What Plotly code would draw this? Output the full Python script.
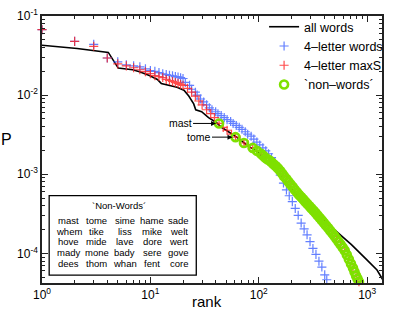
import numpy as np
import plotly.graph_objects as go

# ---------------- data ----------------
all_rank = [1, 2.11, 4.09, 4.52, 5.05, 6.86, 7.94, 9.79, 11.6, 12.6, 14.9, 17.6, 20.4, 22.6, 25.1,
            26.2, 29.7, 34.4, 40.6, 45.2, 50.1, 64.4, 79.4, 97.9, 121, 149, 184, 241, 344, 501,
            716, 1000, 1233, 1428]
all_log10P = [-1.370, -1.411, -1.460, -1.556, -1.658, -1.679, -1.704, -1.753, -1.802, -1.852,
              -1.877, -1.901, -1.938, -2.012, -2.111, -2.185, -2.210, -2.284, -2.346, -2.407,
              -2.444, -2.543, -2.642, -2.716, -2.852, -2.975, -3.136, -3.296, -3.494, -3.704,
              -3.889, -4.086, -4.210, -4.358]

w4_rank = list(range(1, 20)) + [20, 21, 23, 24, 26, 27, 29, 31, 33, 35, 37, 40, 42, 45, 48, 51, 55,
                                58, 62, 66, 70, 75, 79, 85, 90, 96, 102, 109, 116, 123, 131, 140,
                                149, 158, 169, 180, 191, 204, 217, 231, 246, 262, 279, 297, 316,
                                337, 359, 382, 406, 424]
w4_log10P = [-1.173, -1.321, -1.358, -1.531, -1.580, -1.617, -1.630, -1.642, -1.667, -1.690,
             -1.700, -1.716, -1.730, -1.741, -1.750, -1.755, -1.765, -1.770, -1.780,
             -1.790, -1.840, -1.877, -1.926, -1.963, -2.000, -2.049, -2.086, -2.123, -2.160,
             -2.185, -2.210, -2.235, -2.259, -2.284, -2.309, -2.333, -2.358, -2.383, -2.407,
             -2.432, -2.463, -2.494, -2.519, -2.556, -2.593, -2.630, -2.667, -2.704, -2.741,
             -2.790, -2.852, -2.926, -3.012, -3.111, -3.198, -3.272, -3.346, -3.432, -3.519,
             -3.617, -3.691, -3.765, -3.852, -3.938, -4.012, -4.099, -4.173, -4.272, -4.333]

maxs_rank = list(range(1, 21)) + [22, 24, 26, 28, 30, 33, 36, 39, 43, 47, 51, 56, 61, 67, 73, 80,
                                  88, 96, 105, 115, 126, 138, 151, 165, 180, 197, 215, 235, 257,
                                  281, 307, 335, 366, 400, 437, 477, 521, 569, 621, 678, 740,
                                  790, 840]
maxs_log10P = [-1.173, -1.321, -1.383, -1.531, -1.605, -1.630, -1.654, -1.679, -1.704, -1.728,
               -1.753, -1.765, -1.778, -1.802, -1.815, -1.827, -1.840, -1.852, -1.864, -1.877,
               -1.914, -1.963, -2.012, -2.074, -2.123, -2.185, -2.235, -2.284, -2.358, -2.407,
               -2.444, -2.494, -2.531, -2.568, -2.605, -2.630, -2.667, -2.704, -2.741, -2.790,
               -2.827, -2.877, -2.926, -2.994, -3.060, -3.128, -3.196, -3.259, -3.317, -3.375,
               -3.432, -3.490, -3.552, -3.615, -3.679, -3.747, -3.815, -3.889, -3.963, -4.074,
               -4.185, -4.284, -4.358]

non_rank = [43, 61, 73, 88, 96, 105, 110, 115, 120, 126, 132, 138, 144, 151, 158, 165, 172, 180,
            188, 197, 206, 215, 225, 235, 246, 257, 269, 281, 294, 307, 321, 335, 350, 366, 383,
            400, 418, 437, 457, 477, 499, 521, 545, 569, 595, 621, 649, 678, 709, 740, 765, 790,
            815, 840]
non_log10P = [-2.358, -2.531, -2.605, -2.667, -2.704, -2.741, -2.765, -2.790, -2.810, -2.827,
              -2.852, -2.877, -2.900, -2.926, -2.960, -2.994, -3.027, -3.060, -3.094, -3.128,
              -3.162, -3.196, -3.228, -3.259, -3.288, -3.317, -3.346, -3.375, -3.404, -3.432,
              -3.461, -3.490, -3.521, -3.552, -3.583, -3.615, -3.647, -3.679, -3.713, -3.747,
              -3.781, -3.815, -3.852, -3.889, -3.926, -3.963, -4.018, -4.074, -4.130, -4.185,
              -4.235, -4.284, -4.320, -4.358]

series_names = ["all words", "4\u2013letter words", "4\u2013letter maxS", "`non\u2013words\u00b4"]

inset_title = "`Non-Words\u00b4"
inset_words = [
    ["mast", "tome", "sime", "hame", "sade"],
    ["whem", "tike", "liss", "mike", "welt"],
    ["hove", "mide", "lave", "dore", "wert"],
    ["mady", "mone", "bady", "sere", "gove"],
    ["dees", "thom", "whan", "fent", "core"],
]
labelled = ["mast", "tome"]

x_tick_exp = [0, 1, 2, 3]
y_tick_exp = [-4, -3, -2, -1]

# ---------------- figure ----------------
FONT = "Liberation Sans, Arial, sans-serif"
W, H = 395, 311
ML, MR, MT, MB = 42, 7, 9, 28
PW, PH = W - ML - MR, H - MT - MB

def px2paper(px, py):
    return (px - ML) / PW, (H - MB - py) / PH

fig = go.Figure()

fig.add_trace(go.Scatter(
    x=all_rank, y=10 ** np.array(all_log10P), mode="lines", name=series_names[0],
    line=dict(color="black", width=1.6)))

fig.add_trace(go.Scatter(
    x=w4_rank, y=10 ** np.array(w4_log10P), mode="markers", name=series_names[1],
    cliponaxis=False, opacity=0.75,
    marker=dict(symbol="cross-thin", size=6.5, color="#2f55ff",
                line=dict(color="#2f55ff", width=1.2))))

fig.add_trace(go.Scatter(
    x=maxs_rank, y=10 ** np.array(maxs_log10P), mode="markers", name=series_names[2],
    cliponaxis=False, opacity=0.8,
    marker=dict(symbol="cross-thin", size=6.5, color="#ff2020",
                line=dict(color="#ff2020", width=1.2))))

fig.add_trace(go.Scatter(
    x=non_rank, y=10 ** np.array(non_log10P), mode="markers", name=series_names[3],
    marker=dict(symbol="circle-open", size=8, color="#7ee000",
                line=dict(color="#7ee000", width=2.6))))

x_minor = [m * 10 ** k for k in range(0, 4) for m in range(2, 10)]
y_minor = [m * 10.0 ** k for k in range(-5, -1) for m in range(2, 10)]

axis_common = dict(
    type="log", showgrid=False, zeroline=False, showline=True, linecolor="#222",
    linewidth=1.5, mirror="allticks", ticks="inside", ticklen=6, tickwidth=1,
    tickcolor="#222", tickfont=dict(family=FONT, size=12, color="black"),
)

fig.update_xaxes(
    **axis_common, range=[0, PW / 110.3],
    tickmode="array", tickvals=[10 ** e for e in x_tick_exp],
    ticktext=["10<sup>%d</sup>" % e for e in x_tick_exp],
    minor=dict(tickmode="array", tickvals=x_minor, ticks="inside", ticklen=3,
               tickcolor="#222", tickwidth=1),
)
fig.update_yaxes(
    **axis_common, range=[-1 - PH / 81.2, -1],
    tickmode="array", tickvals=[10.0 ** e for e in y_tick_exp],
    ticktext=["10<sup>%d</sup>" % e for e in y_tick_exp],
    minor=dict(tickmode="array", tickvals=y_minor, ticks="inside", ticklen=3,
               tickcolor="#222", tickwidth=1),
)

def paper_text(text, px, py, size):
    x, y = px2paper(px, py)
    return dict(text=text, x=x, y=y, xref="paper", yref="paper", showarrow=False,
                xanchor="center", yanchor="middle",
                font=dict(family=FONT, size=size, color="black"))

annotations = []
annotations.append(paper_text("P", 6, 136, 16))
annotations.append(paper_text("rank", 210, 302, 15))

# labelled non-words with arrows
for i, (word, dx) in enumerate(zip(labelled, [-39, -37])):
    annotations.append(dict(
        text=word, x=np.log10(non_rank[i]), y=non_log10P[i], xref="x", yref="y",
        showarrow=True, ax=dx, ay=0, axref="pixel", ayref="pixel",
        xanchor="center", yanchor="middle",
        arrowhead=2, arrowsize=1, arrowwidth=1, arrowcolor="black", standoff=3,
        font=dict(family=FONT, size=10.5, color="black")))

# inset table
col_x = [69, 97.7, 126, 154.3, 181]
row_y = [219, 229.7, 240.7, 252, 262.7]
annotations.append(paper_text(inset_title, 120.5, 203.3, 9.5))
for r, row in enumerate(inset_words):
    for c, word in enumerate(row):
        annotations.append(paper_text(word, col_x[c], row_y[r], 9.5))

bx0, by0 = px2paper(49.3, 275)
bx1, by1 = px2paper(199, 193.3)

fig.update_layout(
    width=W, height=H, margin=dict(l=ML, r=MR, t=MT, b=MB, pad=0),
    paper_bgcolor="white", plot_bgcolor="white",
    font=dict(family=FONT, color="black"),
    showlegend=True,
    legend=dict(x=px2paper(268, 0)[0], y=px2paper(0, 5)[1], xanchor="left", yanchor="top",
                bgcolor="rgba(0,0,0,0)", borderwidth=0,
                font=dict(family=FONT, size=12.5, color="black"), itemwidth=30),
    annotations=annotations,
    shapes=[dict(type="rect", xref="paper", yref="paper", x0=bx0, y0=by0, x1=bx1, y1=by1,
                 line=dict(color="black", width=1.3), fillcolor="rgba(0,0,0,0)")],
)

fig.write_html("out.html", config={"displayModeBar": False},
               post_script="document.body.style.margin='0';")
